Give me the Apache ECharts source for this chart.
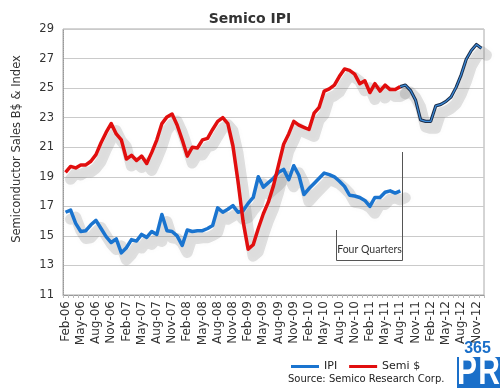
<!DOCTYPE html>
<html><head><meta charset="utf-8">
<script src="https://cdn.jsdelivr.net/npm/echarts@6/dist/echarts.min.js"></script>
<style>html,body{margin:0;padding:0;background:#fff}#c{width:500px;height:388px}</style>
</head><body><div id="c"></div>
<script>
const categories = [
 'Feb-06','Mar-06','Apr-06','May-06','Jun-06','Jul-06','Aug-06','Sep-06','Oct-06','Nov-06','Dec-06',
 'Jan-07','Feb-07','Mar-07','Apr-07','May-07','Jun-07','Jul-07','Aug-07','Sep-07','Oct-07','Nov-07','Dec-07',
 'Jan-08','Feb-08','Mar-08','Apr-08','May-08','Jun-08','Jul-08','Aug-08','Sep-08','Oct-08','Nov-08','Dec-08',
 'Jan-09','Feb-09','Mar-09','Apr-09','May-09','Jun-09','Jul-09','Aug-09','Sep-09','Oct-09','Nov-09','Dec-09',
 'Jan-10','Feb-10','Mar-10','Apr-10','May-10','Jun-10','Jul-10','Aug-10','Sep-10','Oct-10','Nov-10','Dec-10',
 'Jan-11','Feb-11','Mar-11','Apr-11','May-11','Jun-11','Jul-11','Aug-11','Sep-11','Oct-11','Nov-11','Dec-11',
 'Jan-12','Feb-12','Mar-12','Apr-12','May-12','Jun-12','Jul-12','Aug-12','Sep-12','Oct-12','Nov-12','Dec-12'
];
const yTicks = [11,13,15,17,19,21,23,25,27,29];

// IPI, Feb-06 .. Aug-11
const ipi = [16.6,16.75,15.85,15.3,15.35,15.75,16.05,15.5,14.95,14.55,
 14.8,13.85,14.2,14.75,14.65,15.1,14.9,15.3,15.1,16.45,
 15.35,15.3,15.0,14.35,15.4,15.3,15.35,15.35,15.5,15.7,
 16.9,16.6,16.8,17.05,16.6,16.7,17.2,17.6,19.0,18.3,
 18.6,18.9,19.3,19.5,18.8,19.75,19.1,17.8,18.2,18.55,
 18.9,19.25,19.15,19.0,18.7,18.35,17.75,17.7,17.6,17.4,
 17.0,17.6,17.6,17.95,18.05,17.9,18.05];

// Semi $, Feb-06 .. Aug-11
const semi = [19.3,19.7,19.6,19.8,19.8,20.05,20.5,21.3,22.0,22.6,
 21.9,21.5,20.2,20.45,20.1,20.4,19.9,20.65,21.5,22.6,
 23.05,23.25,22.5,21.5,20.4,21.0,20.95,21.5,21.6,22.2,
 22.75,23.0,22.6,21.1,18.7,16.0,14.1,14.4,15.5,16.5,
 17.3,18.4,19.8,21.2,21.9,22.75,22.5,22.35,22.2,23.3,
 23.7,24.8,24.95,25.2,25.8,26.3,26.2,25.95,25.3,25.5,
 24.7,25.3,24.8,25.2,24.9,24.9,25.1];

// Semi $ forecast, Aug-11 .. Dec-12
const forecast = [25.1,25.2,24.85,24.2,22.85,22.75,22.75,23.8,23.9,24.1,
 24.4,25.05,25.9,26.95,27.55,27.95,27.7];
const forecastStart = 66;

const pad = (arr, start) => categories.map((_, i) => (i >= start && i - start < arr.length) ? arr[i - start] : null);
const ipiFull = pad(ipi, 0), semiFull = pad(semi, 0), fcFull = pad(forecast, forecastStart);

const FONT = 'DejaVu Sans';
const G = {left: 63, right: 16, top: 29, bottom: 93};
const SDX = 5, SDY = 7;
const shadowStyle = {width: 11, color: 'rgba(120,120,120,0.21)', cap: 'round', join: 'round', shadowBlur: 5, shadowColor: 'rgba(120,120,120,0.2)'};
const yMin = yTicks[0], yMax = yTicks[yTicks.length-1], yStep = yTicks[1]-yTicks[0];

const chart = echarts.init(document.getElementById('c'), null, {renderer: 'canvas'});
chart.setOption({
  animation: false,
  backgroundColor: '#fff',
  title: {text: 'Semico IPI', left: 'center', top: 7,
    textStyle: {fontFamily: FONT, fontSize: 14, fontWeight: 'bold', color: '#333'}},
  legend: {data: ['IPI', 'Semi $'], left: 286, top: 356, icon: 'rect', itemWidth: 28, itemHeight: 3, itemGap: 12,
    textStyle: {fontFamily: FONT, fontSize: 11, color: '#222'}},
  grid: [
    {left: G.left, right: G.right, top: G.top, bottom: G.bottom, show: true, borderColor: '#aaa', borderWidth: 1},
    {left: G.left + SDX, right: G.right - SDX, top: G.top + SDY, bottom: G.bottom - SDY}
  ],
  xAxis: [
    {type: 'category', data: categories, gridIndex: 0, boundaryGap: true,
     axisLine: {lineStyle: {color: '#999'}},
     axisTick: {show: true, interval: 0, length: 3, lineStyle: {color: '#bbb'}},
     axisLabel: {interval: 2, rotate: 90, margin: 6, fontFamily: FONT, fontSize: 12, color: '#333'},
     splitLine: {show: false}},
    {type: 'category', data: categories, gridIndex: 1, boundaryGap: true, show: false}
  ],
  yAxis: [
    {type: 'value', gridIndex: 0, min: yMin, max: yMax, interval: yStep,
     axisLine: {show: true, lineStyle: {color: '#999', type: 'dotted'}},
     axisTick: {show: false},
     axisLabel: {margin: 9, fontFamily: FONT, fontSize: 11.5, color: '#333'},
     splitLine: {lineStyle: {color: '#cacaca', width: 1}}},
    {type: 'value', gridIndex: 1, min: yMin, max: yMax, interval: yStep, show: false, splitLine: {show: false}}
  ],
  series: [
    {name: 'shIPI', type: 'line', xAxisIndex: 1, yAxisIndex: 1, data: ipiFull, symbol: 'none', silent: true, z: 1, lineStyle: shadowStyle},
    {name: 'shSemi', type: 'line', xAxisIndex: 1, yAxisIndex: 1, data: semiFull, symbol: 'none', silent: true, z: 1, lineStyle: shadowStyle},
    {name: 'shFc', type: 'line', xAxisIndex: 1, yAxisIndex: 1, data: fcFull, symbol: 'none', silent: true, z: 1, lineStyle: shadowStyle},
    {name: 'IPI', type: 'line', data: ipiFull, symbol: 'none', z: 5, color: '#1a74cf',
     lineStyle: {width: 3.5, color: '#1a74cf', join: 'round'}},
    {name: 'Semi $', type: 'line', data: semiFull, symbol: 'none', z: 5, color: '#e10e0e',
     lineStyle: {width: 3.5, color: '#e10e0e', join: 'round'}},
    {name: 'fcOuter', type: 'line', data: fcFull, symbol: 'none', z: 6,
     lineStyle: {width: 3.2, color: '#1c2f4c', join: 'round'}},
    {name: 'fcInner', type: 'line', data: fcFull, symbol: 'none', z: 7,
     lineStyle: {width: 1.2, color: '#3b8ad8', join: 'round'}}
  ],
  graphic: [
    {type: 'text', x: 17.5, y: 149, rotation: Math.PI / 2,
     style: {text: 'Semiconductor Sales B$ & Index', font: '11.5px "DejaVu Sans"', fill: '#333', textAlign: 'center', textVerticalAlign: 'middle'}},
    {type: 'polyline', shape: {points: [[336.5, 230], [336.5, 260.5], [402.5, 260.5], [402.5, 152]]},
     style: {stroke: '#555', lineWidth: 1, fill: null}, z: 10},
    {type: 'text', x: 369.5, y: 250, z: 10,
     style: {text: 'Four Quarters', font: '10.5px Lato', fill: '#333', textAlign: 'center', textVerticalAlign: 'middle'}},
    {type: 'text', x: 288, y: 379,
     style: {text: 'Source: Semico Research Corp.', font: '10px "DejaVu Sans"', fill: '#222', textAlign: 'left', textVerticalAlign: 'middle'}},
    {type: 'text', x: 477.5, y: 349, z: 20,
     style: {text: '365', font: 'bold 16px "Liberation Sans"', fill: '#1a6fc9', textAlign: 'center', textVerticalAlign: 'middle'}},
    {type: 'rect', shape: {x: 457, y: 357, width: 43, height: 31}, style: {fill: '#1a6fc9'}, z: 20},
    {type: 'text', x: 467, y: 393, scaleY: 1.35, z: 21,
     style: {text: 'P', font: 'bold 30px "Liberation Sans"', fill: '#fff', textAlign: 'center', textVerticalAlign: 'bottom'}},
    {type: 'text', x: 489, y: 393, scaleY: 1.35, z: 21,
     style: {text: 'R', font: 'bold 30px "Liberation Sans"', fill: '#fff', textAlign: 'center', textVerticalAlign: 'bottom'}}
  ]
});
</script>
</body></html>
